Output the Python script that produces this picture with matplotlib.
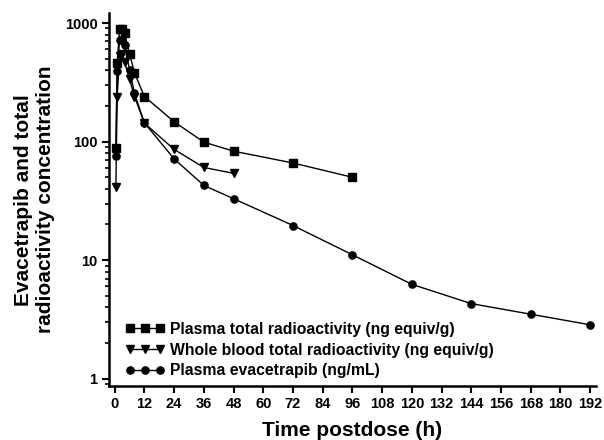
import matplotlib
matplotlib.use("Agg")
import numpy as np
from matplotlib import pyplot as plt
from matplotlib.ticker import FixedLocator, LogLocator, NullFormatter

plt.rcParams["font.family"] = ["Liberation Sans", "DejaVu Sans"]
plt.rcParams["font.weight"] = "bold"

# time points (h)
t_plasma = [0.5, 1, 2, 3, 4, 6, 8, 12, 24, 36, 48, 72, 96]
plasma_total = [88, 460, 890, 890, 820, 550, 380, 240, 147, 99, 83, 66, 50]

t_blood = [0.5, 1, 2, 3, 4, 6, 8, 12, 24, 36, 48]
blood_total = [41.5, 240, 530, 550, 470, 335, 240, 143, 86, 60.5, 54]

t_evac = [0.5, 1, 2, 3, 4, 6, 8, 12, 24, 36, 48, 72, 96, 120, 144, 168, 192]
plasma_evac = [75, 395, 720, 720, 650, 405, 255, 144, 71.5, 42.7, 33, 19.6, 11.1,
               6.25, 4.3, 3.5, 2.85]

xticks = list(range(0, 193, 12))
yticks = [1, 10, 100, 1000]

fig = plt.figure(figsize=(6.04, 4.40), dpi=100)
ax = fig.add_axes([0.180, 0.1227, 0.807, 0.847])

kw = dict(color="k", lw=1.0, ms=5.2)
ax.plot(t_plasma, plasma_total, marker="s", label="Plasma total radioactivity (ng equiv/g)", **kw)
ax.plot(t_blood, blood_total, marker="v", label="Whole blood total radioactivity (ng equiv/g)", **kw)
ax.plot(t_evac, plasma_evac, marker="o", label="Plasma evacetrapib (ng/mL)", **kw)

ax.set_yscale("log")
ax.set_xlim(-2.4, 194.4)
ax.set_ylim(0.868, 1207)
ax.xaxis.set_major_locator(FixedLocator(xticks))
ax.set_xticklabels([str(v) for v in xticks])
ax.yaxis.set_major_locator(FixedLocator(yticks))
ax.set_yticklabels([str(v) for v in yticks])
ax.yaxis.set_minor_locator(LogLocator(base=10, subs=np.arange(2, 10)))
ax.yaxis.set_minor_formatter(NullFormatter())

for s in ["top", "right"]:
    ax.spines[s].set_visible(False)
for s in ["left", "bottom"]:
    ax.spines[s].set_linewidth(1.8)

ax.tick_params(axis="both", which="major", direction="out", length=5, width=1.5,
               labelsize=10.5, pad=3)
ax.tick_params(axis="y", which="minor", direction="out", length=3, width=1.2)
for lab in ax.get_xticklabels() + ax.get_yticklabels():
    lab.set_fontweight("bold")

ax.set_xlabel("Time postdose (h)", fontsize=15, fontweight="bold", labelpad=7)
ax.set_ylabel("Evacetrapib and total\nradioactivity concentration", fontsize=15,
              fontweight="bold", linespacing=1.2)
ax.yaxis.set_label_coords(-0.111, 0.5)

leg = ax.legend(loc="upper left", bbox_to_anchor=(0.035, 0.172), frameon=False,
                numpoints=3, handlelength=2.5, handletextpad=0.3, labelspacing=0.36,
                prop={"weight": "bold", "size": 11.3}, borderaxespad=0,
                borderpad=0)

fig.savefig("out.png", dpi=100)
